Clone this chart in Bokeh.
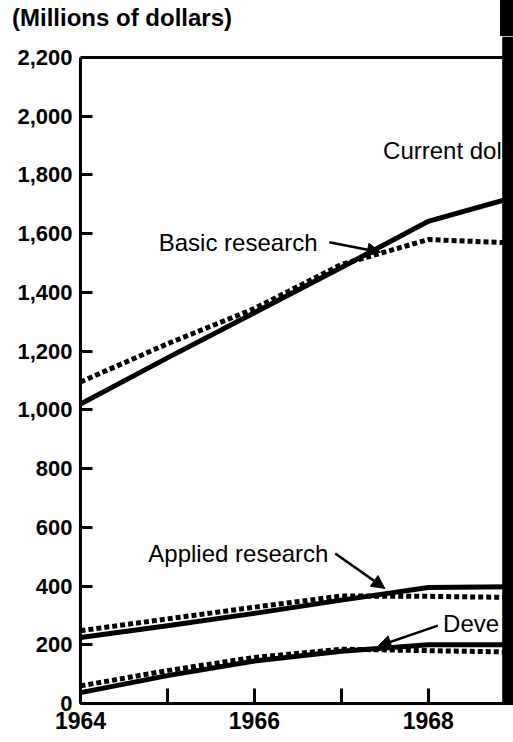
from bokeh.plotting import figure
from bokeh.layouts import column
from bokeh.models import (Range1d, FixedTicker, NumeralTickFormatter, Arrow,
                          NormalHead, BoxAnnotation, ColumnDataSource, Span,
                          Div)
from bokeh.core.properties import value
from bokeh.embed import file_html
from bokeh.resources import INLINE

# ---- data (millions of dollars) ----
years = [1964, 1965, 1966, 1967, 1968, 1969]
basic_current = [1020, 1177, 1331, 1485, 1642, 1725]
basic_constant = [1095, 1225, 1345, 1495, 1580, 1568]
applied_current = [225, 265, 307, 352, 395, 398]
applied_constant = [248, 288, 328, 366, 365, 361]
devel_current = [37, 95, 145, 178, 200, 200]
devel_constant = [60, 112, 157, 185, 180, 175]

y_ticks = [0, 200, 400, 600, 800, 1000, 1200, 1400, 1600, 1800, 2000, 2200]
x_ticks = [1964, 1965, 1966, 1967, 1968]
x_labels = {1964: "1964", 1965: "", 1966: "1966", 1967: "", 1968: "1968"}
unit_caption = "(Millions of dollars)"

FONT = "Liberation Sans"

# ---- caption strip above the chart ----
cap = Div(text=unit_caption, width=513, height=36, margin=0,
          styles={"font-family": "'Liberation Sans', sans-serif",
                  "font-size": "24px", "font-weight": "bold",
                  "color": "black", "line-height": "36px",
                  "padding-left": "12px", "box-sizing": "border-box",
                  "white-space": "nowrap",
                  "background": "linear-gradient(to right, white 500px, black 500px)"})

# ---- main chart ----
p = figure(frame_width=433, frame_height=667, output_backend="svg",
           toolbar_location=None,
           x_range=Range1d(1964, 1968.98), y_range=Range1d(0, 2271.5),
           min_border_left=80, min_border_top=0, min_border_right=0,
           min_border_bottom=30)
p.background_fill_color = "white"
p.border_fill_color = "white"
p.grid.visible = False
p.outline_line_color = None

for ax in (p.xaxis[0], p.yaxis[0]):
    ax.axis_line_width = 3
    ax.major_tick_line_width = 3
    ax.minor_tick_line_color = None
    ax.major_tick_out = 0
    ax.major_label_text_font = FONT
    ax.major_label_text_font_style = "bold"
    ax.major_label_text_color = "black"

p.yaxis.ticker = FixedTicker(ticks=y_ticks)
p.yaxis.formatter = NumeralTickFormatter(format="0,0")
p.yaxis.bounds = (0, 2200)
p.yaxis.major_tick_in = 12
p.yaxis.major_label_standoff = 8
p.yaxis.major_label_text_font_size = "22px"

p.xaxis.ticker = FixedTicker(ticks=x_ticks)
p.xaxis.major_label_overrides = x_labels
p.xaxis.major_tick_in = 15
p.xaxis.major_label_standoff = 8
p.xaxis.major_label_text_font_size = "23px"

# top rule of the chart box
p.add_layout(Span(location=2200, dimension="width", line_color="black",
                  line_width=3))

src = ColumnDataSource(dict(x=years, bc=basic_current, bk=basic_constant,
                            ac=applied_current, ak=applied_constant,
                            dc=devel_current, dk=devel_constant))

for col in ("bk", "ak", "dk"):
    p.line("x", col, source=src, line_color="black", line_width=5,
           line_dash="5 3", line_cap="butt")
for col in ("bc", "ac", "dc"):
    p.line("x", col, source=src, line_color="black", line_width=5,
           line_join="miter")

# labels (the scan is cropped at the right, so only part of two labels shows)
lab = ColumnDataSource(dict(
    x=[1967.48, 1964.90, 1964.78, 1968.17],
    y=[1884, 1571, 511, 272],
    t=["Current dol", "Basic research", "Applied research", "Deve"]))
p.text("x", "y", text="t", source=lab, text_font=value(FONT),
       text_font_size="24px", text_baseline="middle", text_align="left",
       text_color="black")

head = dict(size=13, fill_color="black", line_color="black")
p.add_layout(Arrow(end=NormalHead(**head), x_start=1966.86, y_start=1571,
                   x_end=1967.45, y_end=1537, line_width=2.5))
p.add_layout(Arrow(end=NormalHead(**head), x_start=1966.93, y_start=511,
                   x_end=1967.50, y_end=392, line_width=2.5))
p.add_layout(Arrow(end=NormalHead(**head), x_start=1968.11, y_start=265,
                   x_end=1967.42, y_end=195, line_width=2.5))

# dark scan edge on the right
p.add_layout(BoxAnnotation(left=1968.85, fill_color="black", fill_alpha=1,
                           line_color=None))

open("out.html", "w").write(file_html(column(cap, p), INLINE))
